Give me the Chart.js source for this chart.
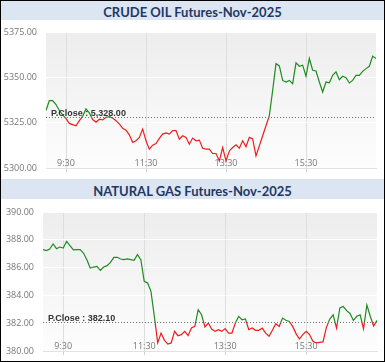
<!DOCTYPE html>
<html lang="en">
<head>
<meta charset="UTF-8">
<title>MCX Futures</title>
<script src="https://cdn.jsdelivr.net/npm/chart.js"></script>
<style>
    body { margin: 0; background: #fff; }
    #frame {
        width: 385px; height: 362px;
        border: 1px solid #000;
        box-sizing: border-box;
        overflow: hidden;
    }
    .title {
        background: #dce6f2;
        color: #1f3864;
        font-family: Lato, "Open Sans", sans-serif;
        font-weight: bold;
        font-size: 13px;
        text-align: center;
    }
    #t1 { height: 19px; line-height: 22px; }
    #t2 { height: 20px; line-height: 24px; }
    .box { position: relative; width: 383px; }
    #b1 { height: 159px; }
    #b2 { height: 162px; }
</style>
</head>
<body>
<div id="frame">
    <div id="t1" class="title">CRUDE OIL Futures-Nov-2025</div>
    <div id="b1" class="box"><canvas id="crudeChart"></canvas></div>
    <div id="t2" class="title">NATURAL GAS Futures-Nov-2025</div>
    <div id="b2" class="box"><canvas id="gasChart"></canvas></div>
</div>
<script>
// time axis: minutes after midnight, one reading every 5 minutes from 9:00
const START_MIN = 540;
const STEP_MIN = 5;
const tickTimes = [570, 690, 810, 930];
const tickLabels = ['9:30', '11:30', '13:30', '15:30'];

// crude oil
const crudeClose = 5328.00;
const crudeTicks = [5300, 5325, 5350, 5375];
const crudeValues = [
    5331.7, 5337.2, 5337.2, 5335.0, 5331.7, 5329.3, 5327.2, 5324.6, 5323.9, 5323.3,
    5326.1, 5328.5, 5332.6, 5330.4, 5326.7, 5325.2, 5326.9, 5326.5, 5328.0, 5328.3,
    5327.6, 5326.1, 5324.3, 5321.9, 5320.9, 5318.3, 5314.1, 5315.0, 5316.9, 5321.5,
    5315.0, 5310.4, 5312.6, 5313.5, 5316.3, 5318.7, 5319.4, 5318.7, 5320.6, 5320.6,
    5315.9, 5317.8, 5316.9, 5313.1, 5316.5, 5315.0, 5315.4, 5310.9, 5310.4, 5310.4,
    5308.0, 5308.0, 5303.9, 5311.3, 5303.9, 5309.4, 5311.3, 5312.8, 5310.9, 5315.0,
    5311.7, 5316.9, 5316.0, 5306.7, 5312.2, 5317.8, 5323.3, 5328.9, 5342.8, 5357.6,
    5356.3, 5348.3, 5347.4, 5348.3, 5346.5, 5358.0, 5356.1, 5356.7, 5350.6, 5360.4,
    5353.9, 5353.5, 5347.4, 5341.9, 5347.4, 5347.0, 5351.1, 5353.0, 5348.7, 5350.6,
    5349.8, 5346.9, 5348.3, 5351.1, 5351.1, 5353.3, 5354.8, 5356.1, 5361.7, 5360.4
];

// natural gas
const gasClose = 382.10;
const gasTicks = [380, 382, 384, 386, 388, 390];
const gasValues = [
    387.29, 387.22, 387.34, 387.70, 387.36, 387.48, 387.41, 387.89, 387.58, 387.27,
    387.29, 387.29, 387.05, 386.57, 385.97, 386.04, 386.09, 385.80, 386.04, 386.14,
    386.38, 386.74, 386.74, 386.62, 386.57, 386.62, 386.57, 386.52, 386.93, 386.57,
    385.01, 384.89, 384.29, 382.49, 380.58, 381.29, 380.77, 380.50, 380.58, 381.41,
    381.10, 381.18, 381.41, 381.10, 381.65, 381.77, 382.97, 382.61, 381.73, 382.01,
    381.58, 381.41, 381.53, 381.41, 381.61, 381.29, 381.29, 382.01, 382.49, 382.25,
    382.30, 381.53, 381.65, 381.49, 381.49, 381.65, 381.29, 381.06, 381.49, 381.97,
    381.77, 382.37, 382.21, 382.13, 381.77, 381.25, 380.86, 381.18, 381.41, 381.18,
    380.70, 380.58, 380.62, 380.65, 381.70, 382.30, 382.60, 381.65, 383.10, 383.20,
    382.90, 382.70, 382.20, 382.50, 382.60, 381.60, 383.30, 382.50, 381.80, 382.20
];

const GREEN = '#1e8c1e';
const RED = '#ee1c1c';

function toPoints(values) {
    return values.map((v, i) => ({ x: START_MIN + i * STEP_MIN, y: v }));
}

// line is green above the previous close and red below it
function splitColor(close) {
    return function(context) {
        const chart = context.chart;
        const area = chart.chartArea;
        if (!area) return GREEN;
        const y = chart.scales.y.getPixelForValue(close);
        let f = (y - area.top) / (area.bottom - area.top);
        f = Math.min(Math.max(f, 0), 1);
        const g = chart.ctx.createLinearGradient(0, area.top, 0, area.bottom);
        g.addColorStop(0, GREEN);
        g.addColorStop(f, GREEN);
        g.addColorStop(f, RED);
        g.addColorStop(1, RED);
        return g;
    };
}

const plotBackground = {
    id: 'plotBackground',
    beforeDraw(chart) {
        const { ctx, chartArea: a } = chart;
        const g = ctx.createLinearGradient(0, a.top, 0, a.bottom);
        g.addColorStop(0, '#ededed');
        g.addColorStop(1, '#fdfdfd');
        ctx.save();
        ctx.fillStyle = g;
        ctx.fillRect(a.left, a.top, a.right - a.left, a.bottom - a.top);
        ctx.restore();
    }
};

const closeLine = {
    id: 'closeLine',
    afterDatasetsDraw(chart, args, opts) {
        const { ctx, chartArea: a } = chart;
        const y = Math.round(chart.scales.y.getPixelForValue(opts.value)) + 0.5;
        ctx.save();
        ctx.strokeStyle = '#6e6e6e';
        ctx.lineWidth = 1;
        ctx.setLineDash([1, 2]);
        ctx.beginPath();
        ctx.moveTo(a.left, y);
        ctx.lineTo(a.right, y);
        ctx.stroke();
        ctx.setLineDash([]);
        ctx.fillStyle = '#333';
        ctx.font = 'bold 9px "Liberation Sans", Arial, sans-serif';
        ctx.textBaseline = 'alphabetic';
        ctx.fillText(opts.label, a.left + 5, y - 2);
        ctx.restore();
    }
};

function timeLabel(v) {
    const i = tickTimes.indexOf(v);
    return i >= 0 ? tickLabels[i] : '';
}

function makeChart(id, values, close, ticks, closeText, dims) {
    return new Chart(document.getElementById(id), {
        type: 'line',
        data: {
            datasets: [{
                data: toPoints(values),
                borderColor: splitColor(close),
                borderWidth: 1.2,
                pointRadius: 0,
                tension: 0,
                fill: false
            }]
        },
        options: {
            responsive: true,
            maintainAspectRatio: false,
            animation: false,
            layout: { padding: { top: dims.top, right: dims.right, left: 0, bottom: 0 } },
            plugins: {
                legend: { display: false },
                tooltip: { enabled: false },
                closeLine: { value: close, label: closeText }
            },
            scales: {
                x: {
                    type: 'linear',
                    min: 540,
                    max: 1035,
                    afterBuildTicks: s => { s.ticks = tickTimes.map(v => ({ value: v })); },
                    afterFit: s => { s.height = dims.xh; },
                    grid: { color: '#dedede', tickLength: 4, drawTicks: true, tickColor: '#d0d0d0' },
                    border: { display: true, color: '#e2e2e2' },
                    ticks: {
                        mirror: true,   // labels sit inside the plot, just above the bottom edge
                        padding: -1,
                        maxRotation: 0,
                        autoSkip: false,
                        color: '#777',
                        font: { size: 9, family: '"Open Sans", sans-serif' },
                        callback: v => timeLabel(v)
                    }
                },
                y: {
                    min: ticks[0],
                    max: ticks[ticks.length - 1],
                    afterBuildTicks: s => { s.ticks = ticks.map(v => ({ value: v })); },
                    afterFit: s => { s.width = dims.yw; },
                    // invisible tick marks give the gap between labels and plot
                    grid: { color: '#ffffff', drawTicks: true, tickLength: 9, tickColor: 'rgba(0,0,0,0)' },
                    border: { display: false },
                    ticks: {
                        padding: 0,
                        color: '#777',
                        font: { size: 9, family: '"Open Sans", sans-serif' },
                        callback: v => v.toFixed(2)
                    }
                }
            }
        },
        plugins: [plotBackground, closeLine]
    });
}

makeChart('crudeChart', crudeValues, crudeClose, crudeTicks, 'P.Close : 5,328.00',
    { top: 12, right: 8, yw: 45, xh: 11 });
makeChart('gasChart', gasValues, gasClose, gasTicks, 'P.Close : 382.10',
    { top: 13, right: 7, yw: 42, xh: 10 });
</script>
</body>
</html>
